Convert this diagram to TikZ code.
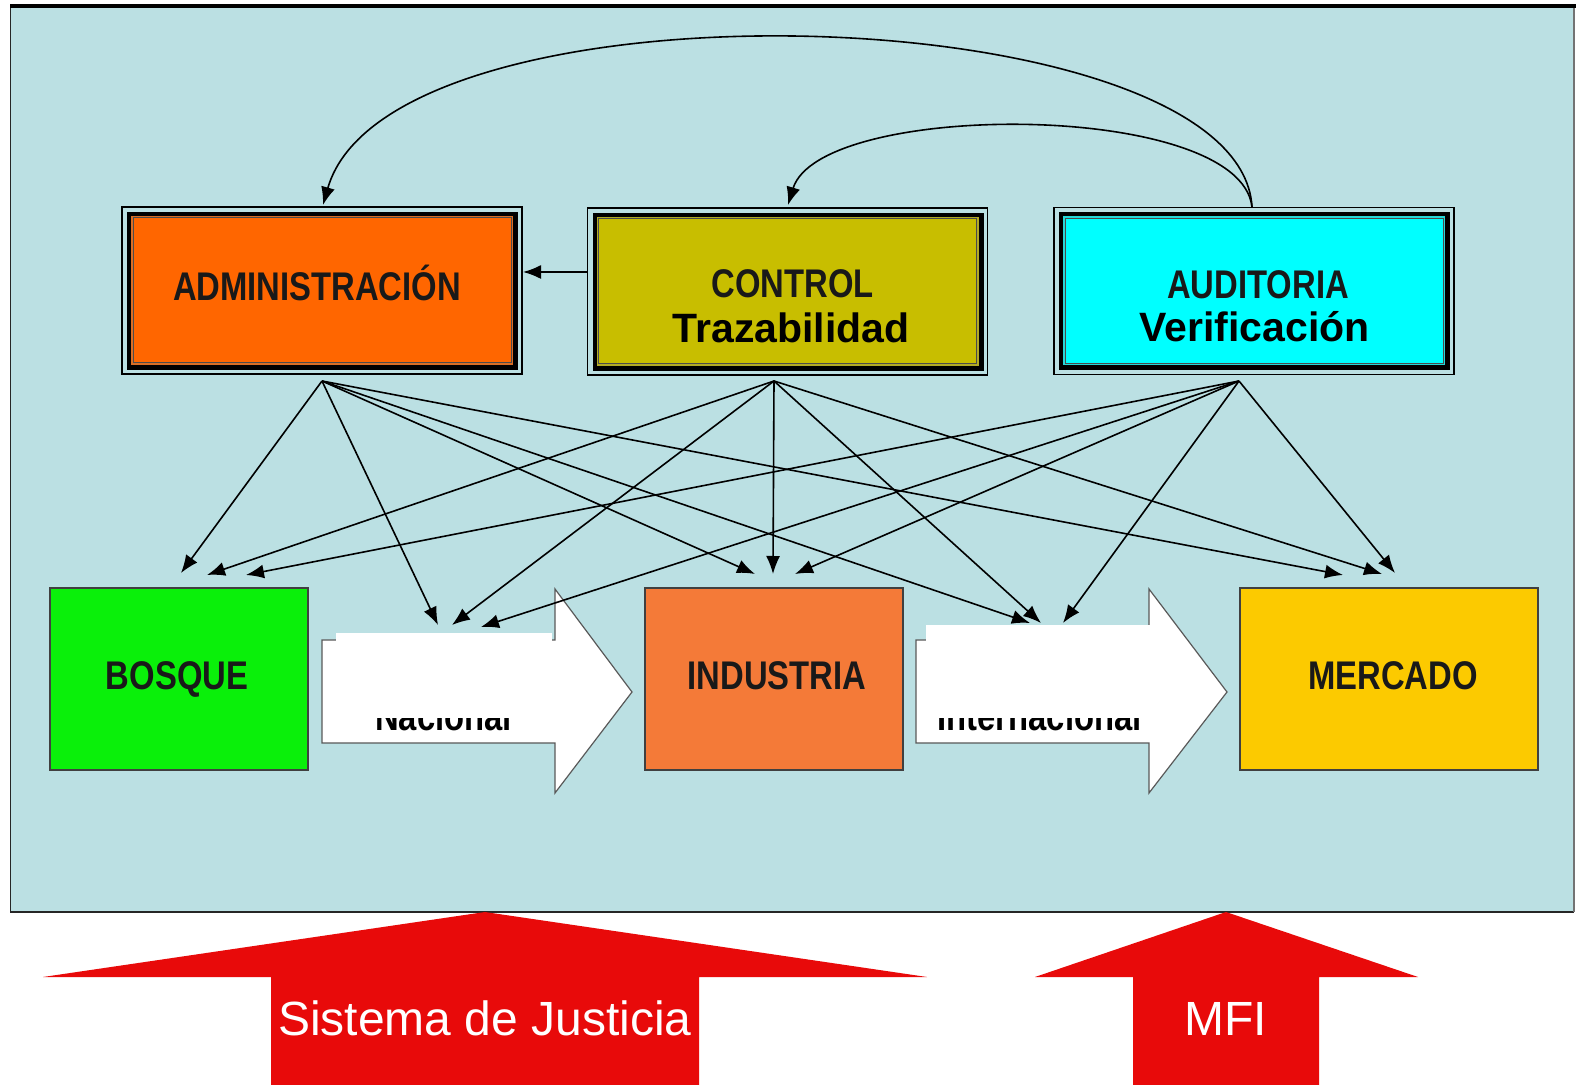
\documentclass[tikz,border=0pt]{standalone}
\usepackage{fontspec}
\usepackage{graphicx}
\setmainfont{Liberation Sans}
\usetikzlibrary{arrows.meta,calc}
\definecolor{bgblue}{RGB}{187,224,227}
\definecolor{admcol}{RGB}{255,102,0}
\definecolor{ctrlcol}{RGB}{200,190,0}
\definecolor{audcol}{RGB}{0,255,255}
\definecolor{bosqcol}{RGB}{10,240,10}
\definecolor{indcol}{RGB}{244,122,56}
\definecolor{mercol}{RGB}{252,202,0}
\definecolor{redcol}{RGB}{232,10,10}
\newcommand\nar[1]{\scalebox{0.82}[1]{#1}}
\newcommand\mytopframe[3]{%
  \draw[line width=0.8pt] (#1-200,#2-83.5) rectangle (#1+200,#2+83.5);
  \fill[black] (#1-195,#2-78.5) rectangle (#1+196,#2+79.5);
  \fill[#3!70!gray] (#1-191,#2-74.5) rectangle (#1+191,#2+74.5);
}
\tikzset{
  conn/.style={line width=0.8pt, -{Latex[length=9pt,width=7pt]}},
  lbl/.style={anchor=base, inner sep=0, text=black!90, font=\fontsize{20}{24}\selectfont\bfseries},
  sub/.style={anchor=base, inner sep=0, font=\fontsize{20.5}{24}\selectfont\bfseries},
  topbox/.style={draw=black!70, line width=0.5pt, inner sep=0, minimum width=189pt, minimum height=72.5pt},
  botbox/.style={draw=black!75, line width=0.6pt, inner sep=0, minimum height=91pt},
  whitearrow/.style={fill=white, draw=black!65, line width=0.6pt},
  redarrow/.style={fill=redcol},
  redlbl/.style={anchor=base, inner sep=0, text=white, font=\fontsize{24}{28}\selectfont}
}
\begin{document}
\begin{tikzpicture}[x=0.5pt,y=-0.5pt]
\useasboundingbox (0,0) rectangle (1576,1085);
\fill[white] (0,0) rectangle (1576,1085);
% panel
\fill[bgblue] (10,6) rectangle (1574,912);
\draw[black!85, line width=0.9pt] (10.5,6) -- (10.5,912) -- (1574,912);
\draw[black!55, line width=0.6pt] (1574,6) -- (1574,912);
\draw[black, line width=1.6pt] (10,6) -- (1576,6);

% top boxes
\mytopframe{322}{290.5}{admcol}
\mytopframe{787.5}{291.5}{ctrlcol}
\mytopframe{1254}{291}{audcol}
\node[topbox, fill=admcol] (adm) at (322,290.5) {};
\node[topbox, fill=ctrlcol] (ctrl) at (787.5,291.5) {};
\node[topbox, fill=audcol] (aud) at (1254,291) {};
\node[lbl] (admL) at (317,301) {\nar{ADMINISTRACIÓN}};
\node[lbl] (ctrlL) at (792.5,298) {\nar{CONTROL}};
\node[sub] (ctrlS2) at (791,343) {Trazabilidad};
\node[lbl] (audL) at (1258,299) {\nar{AUDITORIA}};
\node[sub] (audS2) at (1254.5,342) {Verificación};

% bottom boxes
\node[botbox, fill=bosqcol, minimum width=129pt] (bosq) at (179,679) {};
\node[botbox, fill=indcol, minimum width=129pt] (ind) at (774,679) {};
\node[botbox, fill=mercol, minimum width=149pt] (merc) at (1389,679) {};
\node[lbl] (bosqL) at (177,689.5) {\nar{BOSQUE}};
\node[lbl] (indL) at (777,689.5) {\nar{INDUSTRIA}};
\node[lbl] (mercL) at (1393,689.5) {\nar{MERCADO}};

% white block arrows with hidden labels
\draw[whitearrow] (322,640) -- (555,640) -- (555,589) -- (632,692) -- (555,793) -- (555,743) -- (322,743) -- cycle;
\draw[whitearrow] (916,640) -- (1149,640) -- (1149,589) -- (1227,692) -- (1149,793) -- (1149,743) -- (916,743) -- cycle;
\node[lbl, text=black] (nac) at (443.5,731) {\nar{Nacional}};
\node[lbl, text=black] (inter) at (1039.5,731) {\nar{Internacional}};
\fill[white] (336,633) rectangle (552,718);
\fill[white] (926,625) rectangle (1160,718);

% connector coordinates
\coordinate (admS) at (322,381);
\coordinate (ctrlS) at (774,381);
\coordinate (audS) at (1239,381);
\coordinate (admT) at (323,205);
\coordinate (ctrlT) at (788,205);
\coordinate (audT) at (1252,207);
\coordinate (ctrlW) at (587,272);
\coordinate (admE) at (523,272);
\coordinate (B1) at (181,573);
\coordinate (B2) at (207,575);
\coordinate (B3) at (246,575);
\coordinate (N1) at (438,625);
\coordinate (N2) at (452,625);
\coordinate (N3) at (481,627);
\coordinate (I1) at (755,574);
\coordinate (I2) at (773,574);
\coordinate (I3) at (795,574);
\coordinate (T1) at (1030,623);
\coordinate (T2) at (1041,623);
\coordinate (T3) at (1063,623);
\coordinate (M1) at (1343,575);
\coordinate (M2) at (1382,574);
\coordinate (M3) at (1395,573);

% connectors
\draw[conn] (audT) .. controls (1240,-5) and (390,-30) .. (admT);
\draw[conn] (audT) .. controls (1240,100) and (820,100) .. (ctrlT);
\draw[conn] (ctrlW) -- (admE);
\foreach \t in {B1,N1,I1,T1,M1} \draw[conn] (admS) -- (\t);
\foreach \t in {B2,N2,I2,T2,M2} \draw[conn] (ctrlS) -- (\t);
\foreach \t in {B3,N3,I3,T3,M3} \draw[conn] (audS) -- (\t);

% red arrows
\fill[redarrow] (485,912) -- (927,977) -- (699,977) -- (699,1085) -- (271,1085) -- (271,977) -- (43,977) -- cycle;
\fill[redarrow] (1226,912) -- (1418,977) -- (1319,977) -- (1319,1085) -- (1133,1085) -- (1133,977) -- (1035,977) -- cycle;
\node[redlbl] (just) at (485,1035) {Sistema de Justicia};
\node[redlbl] (mfi) at (1226,1035) {MFI};
\end{tikzpicture}
\end{document}
